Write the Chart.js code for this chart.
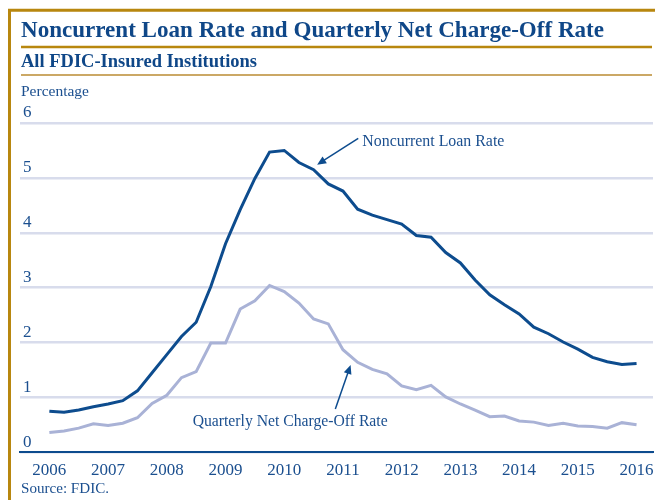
<!DOCTYPE html>
<html>
<head>
<meta charset="utf-8">
<script src="https://cdn.jsdelivr.net/npm/chart.js@4.4.0/dist/chart.umd.min.js"></script>
<style>html, body { margin: 0; background: #fff; }</style>
</head>
<body>
<canvas id="chart" width="655" height="500"></canvas>
<script>
// tick labels
var years = [2006, 2007, 2008, 2009, 2010, 2011, 2012, 2013, 2014, 2015, 2016];
var yTicks = [0, 1, 2, 3, 4, 5, 6];

// quarterly values, 2006 Q1 to 2016 Q1 (percent)
var noncurrent = [0.75, 0.73, 0.77, 0.83, 0.88, 0.94, 1.12, 1.45, 1.78, 2.11, 2.37,
    3.02, 3.80, 4.42, 4.99, 5.47, 5.50, 5.28, 5.15, 4.89, 4.76, 4.43, 4.32, 4.24,
    4.16, 3.95, 3.92, 3.64, 3.45, 3.14, 2.87, 2.69, 2.52, 2.28, 2.16, 2.01, 1.88,
    1.73, 1.65, 1.60, 1.62];
var chargeOff = [0.36, 0.39, 0.44, 0.52, 0.49, 0.53, 0.63, 0.89, 1.04, 1.36, 1.47,
    1.99, 1.99, 2.61, 2.76, 3.04, 2.93, 2.72, 2.43, 2.34, 1.87, 1.64, 1.51, 1.43,
    1.21, 1.14, 1.22, 1.01, 0.88, 0.77, 0.65, 0.66, 0.57, 0.55, 0.49, 0.53, 0.48,
    0.47, 0.44, 0.54, 0.50];
var quarters = noncurrent.map(function (v, i) { return years[0] + i / 4; });

var darkBlue = '#0d4c8e';
var lightBlue = '#a9b2d6';
var textBlue = '#1b4f8f';
var gold = '#b8870f';
var serif = "'Liberation Serif', serif";

function points(values) {
    return values.map(function (v, i) { return { x: quarters[i], y: v }; });
}

// draws text squeezed to a given width (the original uses a condensed face)
function fitText(ctx, str, x, y, width) {
    var w = ctx.measureText(str).width;
    ctx.save();
    ctx.translate(x, y);
    ctx.scale(width / w, 1);
    ctx.fillText(str, 0, 0);
    ctx.restore();
}

var frame = {
    id: 'frame',
    beforeDraw: function (chart) {
        var ctx = chart.ctx;
        ctx.save();
        ctx.fillStyle = '#fff';
        ctx.fillRect(0, 0, chart.width, chart.height);

        ctx.strokeStyle = gold;
        ctx.lineWidth = 3;
        ctx.beginPath();
        ctx.moveTo(8, 10.3); ctx.lineTo(655, 10.3);
        ctx.moveTo(9.5, 9); ctx.lineTo(9.5, 500);
        ctx.stroke();

        ctx.lineWidth = 2.5;
        ctx.beginPath();
        ctx.moveTo(21, 47); ctx.lineTo(652, 47);
        ctx.stroke();

        ctx.strokeStyle = '#cba865';
        ctx.lineWidth = 2;
        ctx.beginPath();
        ctx.moveTo(21, 75); ctx.lineTo(652, 75);
        ctx.stroke();

        ctx.textBaseline = 'alphabetic';
        ctx.textAlign = 'left';
        ctx.fillStyle = '#0f4788';
        ctx.font = 'bold 24px ' + serif;
        fitText(ctx, 'Noncurrent Loan Rate and Quarterly Net Charge-Off Rate', 21, 37, 583);
        ctx.font = 'bold 18px ' + serif;
        fitText(ctx, 'All FDIC-Insured Institutions', 21, 67, 236);

        ctx.fillStyle = textBlue;
        ctx.font = '14px ' + serif;
        fitText(ctx, 'Percentage', 21, 96, 68);
        fitText(ctx, 'Source: FDIC.', 21, 492.5, 88);
        ctx.restore();
    }
};

var notes = [
    { text: 'Noncurrent Loan Rate', x: 2011.33, y: 5.58, width: 142,
      from: [2011.26, 5.72], to: [2010.56, 5.24] },
    { text: 'Quarterly Net Charge-Off Rate', x: 2008.44, y: 0.48, width: 195,
      from: [2010.87, 0.79], to: [2011.13, 1.59] }
];

var annotate = {
    id: 'annotate',
    afterDatasetsDraw: function (chart) {
        var ctx = chart.ctx, xs = chart.scales.x, ys = chart.scales.y;
        ctx.save();
        ctx.fillStyle = textBlue;
        ctx.strokeStyle = darkBlue;
        ctx.font = '16px ' + serif;
        ctx.textBaseline = 'alphabetic';
        notes.forEach(function (n) {
            fitText(ctx, n.text, xs.getPixelForValue(n.x), ys.getPixelForValue(n.y), n.width);
            var x1 = xs.getPixelForValue(n.from[0]), y1 = ys.getPixelForValue(n.from[1]);
            var x2 = xs.getPixelForValue(n.to[0]), y2 = ys.getPixelForValue(n.to[1]);
            var a = Math.atan2(y2 - y1, x2 - x1);
            ctx.lineWidth = 1.5;
            ctx.beginPath();
            ctx.moveTo(x1, y1);
            ctx.lineTo(x2 - 6 * Math.cos(a), y2 - 6 * Math.sin(a));
            ctx.stroke();
            ctx.fillStyle = darkBlue;
            ctx.beginPath();
            ctx.moveTo(x2, y2);
            ctx.lineTo(x2 - 9 * Math.cos(a) + 4 * Math.sin(a), y2 - 9 * Math.sin(a) - 4 * Math.cos(a));
            ctx.lineTo(x2 - 9 * Math.cos(a) - 4 * Math.sin(a), y2 - 9 * Math.sin(a) + 4 * Math.cos(a));
            ctx.closePath();
            ctx.fill();
            ctx.fillStyle = textBlue;
        });
        ctx.restore();
    }
};

new Chart(document.getElementById('chart'), {
    type: 'line',
    data: {
        datasets: [{
            label: 'Noncurrent Loan Rate',
            data: points(noncurrent),
            borderColor: darkBlue,
            borderWidth: 3,
            pointRadius: 0,
            tension: 0
        }, {
            label: 'Quarterly Net Charge-Off Rate',
            data: points(chargeOff),
            borderColor: lightBlue,
            borderWidth: 3,
            pointRadius: 0,
            tension: 0
        }]
    },
    options: {
        responsive: false,
        animation: false,
        layout: { padding: { left: 20, right: 2, top: 123, bottom: 0 } },
        plugins: {
            legend: { display: false },
            tooltip: { enabled: false }
        },
        scales: {
            x: {
                type: 'linear',
                min: 2005.5,
                max: 2016.28,
                afterBuildTicks: function (s) { s.ticks = years.map(function (v) { return { value: v }; }); },
                afterFit: function (s) { s.height = 47.7; },
                ticks: {
                    autoSkip: false,
                    maxRotation: 0,
                    padding: 0,
                    color: textBlue,
                    font: { family: serif, size: 17 },
                    callback: function (v) { return String(v); }
                },
                grid: { display: false },
                border: { color: darkBlue, width: 2 }
            },
            y: {
                min: 0,
                max: 6,
                afterBuildTicks: function (s) { s.ticks = yTicks.map(function (v) { return { value: v }; }); },
                afterFit: function (s) { s.width = 0; },
                ticks: {
                    mirror: true,
                    padding: 3,
                    labelOffset: -10,
                    color: textBlue,
                    font: { family: serif, size: 17 }
                },
                grid: { color: '#d8dcec', lineWidth: 2.5, drawTicks: false },
                border: { display: false }
            }
        }
    },
    plugins: [frame, annotate]
});
</script>
</body>
</html>
